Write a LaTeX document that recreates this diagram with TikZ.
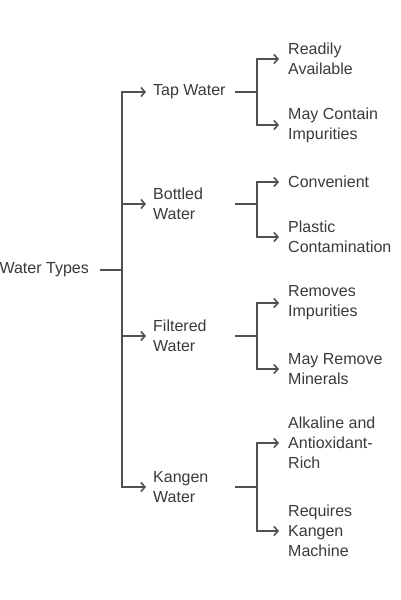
\documentclass[tikz,border=0pt]{standalone}
\usepackage{fontspec}
\setmainfont{Liberation Sans}
\usetikzlibrary{arrows.meta}
\definecolor{ink}{HTML}{3A3A3A}
\definecolor{wire}{HTML}{505050}
\tikzset{
  lbl/.style={inner sep=0pt, anchor=west, align=left, text=ink, font=\fontsize{16}{20}\selectfont},
  wireline/.style={draw=wire, line width=1.6pt},
  arr/.style={wireline, -{Straight Barb[length=4pt,width=9pt]}},
}
\begin{document}
\begin{tikzpicture}[x=1pt,y=-1pt]
\useasboundingbox[fill=white] (0,0) rectangle (400,600);
% root
\node[lbl, anchor=east] (root) at (89,270) {Water Types};
% level 1
\node[lbl] (tap) at (153,92) {Tap Water};
\node[lbl] (bottled) at (153,204) {Bottled\\Water};
\node[lbl] (filtered) at (153,336) {Filtered\\Water};
\node[lbl] (kangen) at (153,487) {Kangen\\Water};
% level 2
\node[lbl] (t1) at (288,59) {Readily\\Available};
\node[lbl] (t2) at (288,125) {May Contain\\Impurities};
\node[lbl] (b1) at (288,182) {Convenient};
\node[lbl] (b2) at (288,237) {Plastic\\Contamination};
\node[lbl] (f1) at (288,303) {Removes\\Impurities};
\node[lbl] (f2) at (288,369) {May Remove\\Minerals};
\node[lbl] (k1) at (288,443) {Alkaline and\\Antioxidant-\\Rich};
\node[lbl] (k2) at (288,531) {Requires\\Kangen\\Machine};
% junctions
\coordinate (r0) at (100,270);
\coordinate (rj) at (122,270);
\coordinate (ts) at (235,92);   \coordinate (tj) at (257,92);
\coordinate (bs) at (235,204);  \coordinate (bj) at (257,204);
\coordinate (fs) at (235,336);  \coordinate (fj) at (257,336);
\coordinate (ks) at (235,487);  \coordinate (kj) at (257,487);
% connectors
\draw[wireline] (r0) -- (rj);
\foreach \n in {tap,bottled,filtered,kangen}
  \draw[arr] (rj) |- ([xshift=-7pt]\n.west);
\draw[wireline] (ts) -- (tj);
\draw[wireline] (bs) -- (bj);
\draw[wireline] (fs) -- (fj);
\draw[wireline] (ks) -- (kj);
\draw[arr] (tj) |- ([xshift=-9pt]t1.west);
\draw[arr] (tj) |- ([xshift=-9pt]t2.west);
\draw[arr] (bj) |- ([xshift=-9pt]b1.west);
\draw[arr] (bj) |- ([xshift=-9pt]b2.west);
\draw[arr] (fj) |- ([xshift=-9pt]f1.west);
\draw[arr] (fj) |- ([xshift=-9pt]f2.west);
\draw[arr] (kj) |- ([xshift=-9pt]k1.west);
\draw[arr] (kj) |- ([xshift=-9pt]k2.west);
\end{tikzpicture}
\end{document}
